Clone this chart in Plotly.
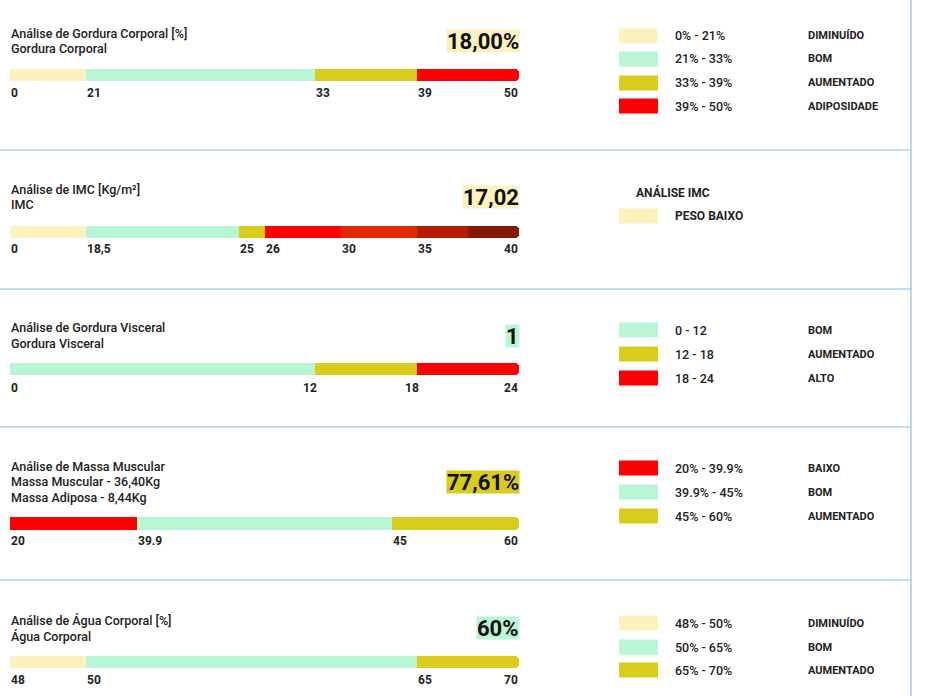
import plotly.graph_objects as go

# ---------------- DATA ----------------
gc_titles = ["Análise de Gordura Corporal [%]", "Gordura Corporal"]
gc_value = "18,00%"
gc_ticks = ["0", "21", "33", "39", "50"]
gc_shares = [15, 45, 20, 20]
gc_ranges = ["0% - 21%", "21% - 33%", "33% - 39%", "39% - 50%"]
gc_status = ["DIMINUÍDO", "BOM", "AUMENTADO", "ADIPOSIDADE"]

imc_titles = ["Análise de IMC [Kg/m²]", "IMC"]
imc_value = "17,02"
imc_ticks = ["0", "18,5", "25", "26", "30", "35", "", "40"]
imc_shares = [15, 30, 5, 15, 15, 10, 10]
imc_legend_title = "ANÁLISE IMC"
imc_status = ["PESO BAIXO"]

gv_titles = ["Análise de Gordura Visceral", "Gordura Visceral"]
gv_value = "1"
gv_ticks = ["0", "12", "18", "24"]
gv_shares = [60, 20, 20]
gv_ranges = ["0 - 12", "12 - 18", "18 - 24"]
gv_status = ["BOM", "AUMENTADO", "ALTO"]

mm_titles = ["Análise de Massa Muscular", "Massa Muscular - 36,40Kg", "Massa Adiposa - 8,44Kg"]
mm_value = "77,61%"
mm_ticks = ["20", "39.9", "45", "60"]
mm_shares = [25, 50, 25]
mm_ranges = ["20% - 39.9%", "39.9% - 45%", "45% - 60%"]
mm_status = ["BAIXO", "BOM", "AUMENTADO"]

ac_titles = ["Análise de Água Corporal [%]", "Água Corporal"]
ac_value = "60%"
ac_ticks = ["48", "50", "65", "70"]
ac_shares = [15, 65, 20]
ac_ranges = ["48% - 50%", "50% - 65%", "65% - 70%"]
ac_status = ["DIMINUÍDO", "BOM", "AUMENTADO"]

# ---------------- STYLES ----------------
PALE = "#FDF1BF"
MINT = "#B9F6D6"
OLIVE = "#D9CC1C"
RED = "#FE0000"
IMC_COLORS = [PALE, MINT, OLIVE, RED, "#E02A04", "#B51D02", "#831703"]
LINE = "#8CBEE0"
TXT = "#222222"

sections = [
    dict(titles=gc_titles, value=gc_value, ticks=gc_ticks, shares=gc_shares,
         colors=[PALE, MINT, OLIVE, RED], vbg=PALE, ranges=gc_ranges, status=gc_status,
         title_y=[33, 48], value_y=41, bar=(69, 81), tick_y=93, leg_y=[36, 59, 83, 106],
         mid_align="left"),
    dict(titles=imc_titles, value=imc_value, ticks=imc_ticks, shares=imc_shares,
         colors=IMC_COLORS, vbg=PALE, ranges=None, status=imc_status,
         title_y=[189, 204], value_y=197, bar=(226, 238), tick_y=249, leg_y=[216],
         mid_align="left"),
    dict(titles=gv_titles, value=gv_value, ticks=gv_ticks, shares=gv_shares,
         colors=[MINT, OLIVE, RED], vbg=MINT, ranges=gv_ranges, status=gv_status,
         title_y=[327, 343], value_y=336, bar=(363, 375), tick_y=388, leg_y=[330, 354, 378],
         mid_align="right"),
    dict(titles=mm_titles, value=mm_value, ticks=mm_ticks, shares=mm_shares,
         colors=[RED, MINT, OLIVE], vbg=OLIVE, ranges=mm_ranges, status=mm_status,
         title_y=[466, 481, 497], value_y=482, bar=(517, 530), tick_y=541, leg_y=[468, 492, 516],
         mid_align="left"),
    dict(titles=ac_titles, value=ac_value, ticks=ac_ticks, shares=ac_shares,
         colors=[PALE, MINT, OLIVE], vbg=MINT, ranges=ac_ranges, status=ac_status,
         title_y=[620, 636], value_y=628, bar=(656, 668), tick_y=680, leg_y=[623, 647, 670],
         mid_align="left"),
]

W, H = 941, 696
def px(x):
    return x / W
def py(y):
    return 1 - y / H

BAR_L, BAR_R = 10, 519

fig = go.Figure()
annotations = []
shapes = []
layout_axes = {}

for i, s in enumerate(sections):
    n = i + 1
    xa = "x" if n == 1 else f"x{n}"
    ya = "y" if n == 1 else f"y{n}"
    for share, col in zip(s["shares"], s["colors"]):
        fig.add_trace(go.Bar(x=[share], y=[0], orientation="h", width=1,
                             marker=dict(color=col, line=dict(width=0)),
                             xaxis=xa, yaxis=ya, showlegend=False, hoverinfo="skip"))
    total = sum(s["shares"])
    layout_axes[f"xaxis{'' if n == 1 else n}"] = dict(
        domain=[px(BAR_L), px(BAR_R)], range=[0, total], visible=False,
        anchor=ya, fixedrange=True)
    layout_axes[f"yaxis{'' if n == 1 else n}"] = dict(
        domain=[py(s["bar"][1]), py(s["bar"][0])], range=[-0.5, 0.5], visible=False,
        anchor=xa, fixedrange=True)

    # boundary tick labels
    cum = [0]
    for sh in s["shares"]:
        cum.append(cum[-1] + sh)
    for k, (pos, lab) in enumerate(zip(cum, s["ticks"])):
        if not lab:
            continue
        last = k == len(cum) - 1
        first = k == 0
        if last:
            anchor, shift = "right", 1
        elif first:
            anchor, shift = "left", -1
        elif s["mid_align"] == "right":
            anchor, shift = "right", 4
        else:
            anchor, shift = "left", -1
        annotations.append(dict(
            x=pos, xref=xa, y=py(s["tick_y"]), yref="paper", text=lab, showarrow=False,
            xanchor=anchor, yanchor="middle", xshift=shift,
            font=dict(family="Roboto", size=12, color=TXT, weight="bold")))

    # titles
    for t, ty in zip(s["titles"], s["title_y"]):
        annotations.append(dict(
            x=px(9), y=py(ty), xref="paper", yref="paper", text=t, showarrow=False,
            xanchor="left", yanchor="middle",
            font=dict(family="Roboto", size=12.5, color=TXT, weight=500)))

    # value box
    annotations.append(dict(
        x=px(520), y=py(s["value_y"]), xref="paper", yref="paper", text=s["value"],
        showarrow=False, xanchor="right", yanchor="middle", bgcolor=s["vbg"],
        borderpad=0, height=22,
        font=dict(family="Roboto", size=22, color="#111111", weight="bold")))

    # legend
    if s["ranges"] is None:
        annotations.append(dict(
            x=px(634), y=py(192), xref="paper", yref="paper", text=imc_legend_title,
            showarrow=False, xanchor="left", yanchor="middle",
            font=dict(family="Roboto", size=12, color=TXT, weight="bold")))
        for st, ly in zip(s["status"], s["leg_y"]):
            shapes.append(dict(type="rect", xref="paper", yref="paper",
                               x0=px(619), x1=px(658), y0=py(ly + 7.5), y1=py(ly - 7.5),
                               fillcolor=s["colors"][0], line=dict(width=0)))
            annotations.append(dict(
                x=px(673), y=py(ly), xref="paper", yref="paper", text=st,
                showarrow=False, xanchor="left", yanchor="middle",
                font=dict(family="Roboto", size=12, color=TXT, weight="bold")))
    else:
        for rg, st, col, ly in zip(s["ranges"], s["status"], s["colors"], s["leg_y"]):
            shapes.append(dict(type="rect", xref="paper", yref="paper",
                               x0=px(619), x1=px(658), y0=py(ly + 7.5), y1=py(ly - 7.5),
                               fillcolor=col, line=dict(width=0)))
            annotations.append(dict(
                x=px(673), y=py(ly), xref="paper", yref="paper", text=rg,
                showarrow=False, xanchor="left", yanchor="middle",
                font=dict(family="Roboto", size=12.5, color=TXT, weight=500)))
            annotations.append(dict(
                x=px(806), y=py(ly), xref="paper", yref="paper", text=st,
                showarrow=False, xanchor="left", yanchor="middle",
                font=dict(family="Roboto", size=11, color=TXT, weight="bold")))

# separators
for sy in [150, 289, 427, 580]:
    shapes.append(dict(type="line", xref="paper", yref="paper",
                       x0=0, x1=px(911), y0=py(sy), y1=py(sy),
                       line=dict(color=LINE, width=1.2)))
shapes.append(dict(type="line", xref="paper", yref="paper",
                   x0=px(911), x1=px(911), y0=0, y1=1,
                   line=dict(color=LINE, width=1.2)))

fig.update_layout(
    width=W, height=H, margin=dict(l=0, r=0, t=0, b=0),
    paper_bgcolor="white", plot_bgcolor="rgba(0,0,0,0)",
    barmode="stack", barcornerradius=4, bargap=0,
    annotations=annotations, shapes=shapes, showlegend=False,
    **layout_axes)

fig.write_html("out.html", config={"displayModeBar": False})
